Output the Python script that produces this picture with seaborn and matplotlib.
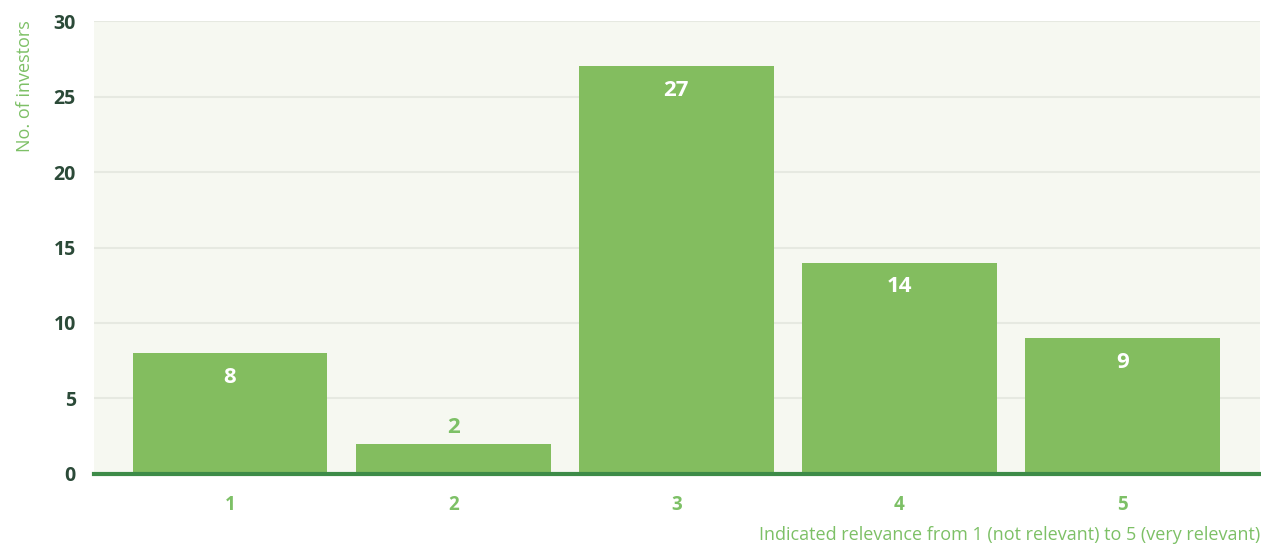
import matplotlib
matplotlib.use("Agg")
import matplotlib.pyplot as plt
import seaborn as sns
import pandas as pd

categories = ["1", "2", "3", "4", "5"]
investors = [8, 2, 27, 14, 9]
y_ticks = [0, 5, 10, 15, 20, 25, 30]

BAR = "#83bd5f"
LABEL_GREEN = "#7dc066"
DARK = "#2b4a38"
BASE = "#3d8b48"

sns.set_theme(style="white")
plt.rcParams["font.family"] = ["Open Sans", "DejaVu Sans"]

df = pd.DataFrame({"relevance": categories, "investors": investors})

fig = plt.figure(figsize=(12.61, 5.46), dpi=100)
ax = fig.add_axes([0.0745, 0.1319, 0.9245, 0.8296])
ax.set_facecolor("#f6f8f1")

sns.barplot(data=df, x="relevance", y="investors", color=BAR, saturation=1,
            width=0.873, linewidth=0, ax=ax, zorder=3)

ax.set_xlim(-0.61, 4.615)
ax.set_ylim(0, 30)
ax.set_yticks(y_ticks)
ax.grid(axis="y", color="#e6e9e1", linewidth=1.5, zorder=0)
ax.set_axisbelow(True)

for s in ["top", "right", "left"]:
    ax.spines[s].set_visible(False)
ax.spines["bottom"].set_color(BASE)
ax.spines["bottom"].set_linewidth(3)
ax.spines["bottom"].set_zorder(5)

ax.tick_params(axis="both", length=0)
ax.tick_params(axis="y", pad=13, labelsize=14, labelcolor=DARK)
ax.tick_params(axis="x", pad=15, labelsize=13.5, labelcolor=LABEL_GREEN)
for t in ax.get_yticklabels() + ax.get_xticklabels():
    t.set_fontweight("bold")

ax.set_xlabel("")
ax.set_ylabel("")

# value labels: white inside tall bars, green above short ones
for i, v in enumerate(investors):
    if v >= 5:
        ax.annotate(str(v), (i, v), xytext=(0, -17.5), textcoords="offset points",
                    ha="center", va="center", color="white", fontsize=16,
                    fontweight="bold", zorder=6)
    else:
        ax.annotate(str(v), (i, v), xytext=(0, 11.5), textcoords="offset points",
                    ha="center", va="center", color=LABEL_GREEN, fontsize=16,
                    fontweight="bold", zorder=6)

fig.text(0.0198, 0.9634, "No. of investors", rotation=90, ha="center", va="top",
         color=LABEL_GREEN, fontsize=13)
fig.text(0.9992, 0.004, "Indicated relevance from 1 (not relevant) to 5 (very relevant)",
         ha="right", va="bottom", color=LABEL_GREEN, fontsize=13)

fig.savefig("out.png", dpi=100, facecolor="white")
